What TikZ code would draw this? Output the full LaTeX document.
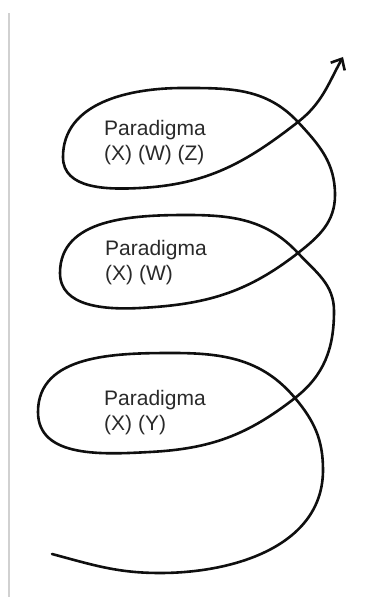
\documentclass[tikz,border=0pt]{standalone}
\usepackage{fontspec}
\setmainfont{Liberation Sans}
\usetikzlibrary{arrows.meta}
\definecolor{ink}{gray}{0.06}
\definecolor{print}{gray}{0.16}
\definecolor{rule}{gray}{0.82}
\tikzset{
  coil/.style={draw=ink, line width=2.6pt, line cap=round},
  stage/.style={anchor=north west, inner sep=0pt, align=left, text=print,
    font=\fontsize{21}{25}\selectfont}
}

\begin{document}
\begin{tikzpicture}[x=1pt,y=1pt]
  \useasboundingbox (0,0) rectangle (376,597);
  \draw[rule, line width=1.2pt] (9,0) -- (9,584);

  % the coil, from the bottom upwards
  \draw[coil, -{Straight Barb[length=9pt,width=16pt]}]
    (52,43) to[out=-15,in=180] (160,24)
    to[out=0,in=-90] (323,127)
    to[out=90,in=-50] (295,199)
    to[out=130,in=0] (173,244)
    to[out=180,in=90] (38,185)
    to[out=-90,in=183] (150,145)
    to[out=3,in=218] (295,199)
    to[out=38,in=-90] (334,286)
    to[out=90,in=-47] (298,344)
    to[out=133,in=0] (187,382)
    to[out=180,in=90] (60,324)
    to[out=-90,in=183] (140,289)
    to[out=3,in=218] (298,344)
    to[out=38,in=-90] (335,402)
    to[out=90,in=-47] (298,475)
    to[out=133,in=0] (183,509)
    to[out=180,in=90] (63,440)
    to[out=-90,in=183] (140,409)
    to[out=3,in=218] (298,475)
    to[out=38,in=241] (343,540);

  \node[stage] (top) at (104,477) {Paradigma\\(X) (W) (Z)};
  \node[stage] (mid) at (105,357) {Paradigma\\(X) (W)};
  \node[stage] (low) at (104,207) {Paradigma\\(X) (Y)};
\end{tikzpicture}
\end{document}
